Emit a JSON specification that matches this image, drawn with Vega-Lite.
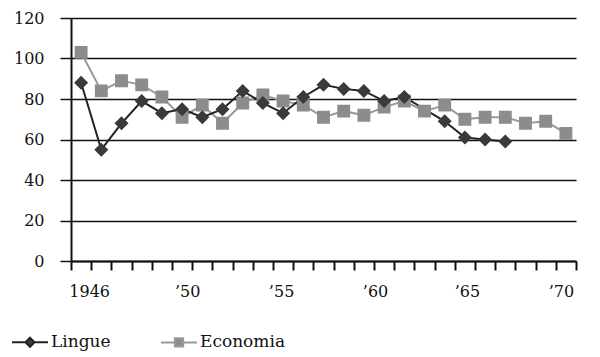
{
  "$schema": "https://vega.github.io/schema/vega-lite/v6.json",
  "width": 505,
  "height": 243,
  "autosize": {"type": "none"},
  "padding": {"left": 71, "top": 18, "right": 24, "bottom": 96},
  "background": "white",
  "config": {
    "view": {"stroke": null},
    "font": "DejaVu Serif",
    "legend": {
      "orient": "none",
      "legendX": -60,
      "legendY": 305,
      "direction": "horizontal",
      "symbolSize": 1296,
      "symbolStrokeWidth": 2,
      "labelFontSize": 17,
      "labelFont": "DejaVu Serif",
      "labelColor": "#111111",
      "labelOffset": 2,
      "columnPadding": 46,
      "padding": 0
    }
  },
  "data": {"values": [
    {"year": 1946, "series": "Economia", "value": 103},
    {"year": 1947, "series": "Economia", "value": 84},
    {"year": 1948, "series": "Economia", "value": 89},
    {"year": 1949, "series": "Economia", "value": 87},
    {"year": 1950, "series": "Economia", "value": 81},
    {"year": 1951, "series": "Economia", "value": 71},
    {"year": 1952, "series": "Economia", "value": 77},
    {"year": 1953, "series": "Economia", "value": 68},
    {"year": 1954, "series": "Economia", "value": 78},
    {"year": 1955, "series": "Economia", "value": 82},
    {"year": 1956, "series": "Economia", "value": 79},
    {"year": 1957, "series": "Economia", "value": 77},
    {"year": 1958, "series": "Economia", "value": 71},
    {"year": 1959, "series": "Economia", "value": 74},
    {"year": 1960, "series": "Economia", "value": 72},
    {"year": 1961, "series": "Economia", "value": 76},
    {"year": 1962, "series": "Economia", "value": 79},
    {"year": 1963, "series": "Economia", "value": 74},
    {"year": 1964, "series": "Economia", "value": 77},
    {"year": 1965, "series": "Economia", "value": 70},
    {"year": 1966, "series": "Economia", "value": 71},
    {"year": 1967, "series": "Economia", "value": 71},
    {"year": 1968, "series": "Economia", "value": 68},
    {"year": 1969, "series": "Economia", "value": 69},
    {"year": 1970, "series": "Economia", "value": 63},
    {"year": 1946, "series": "Lingue", "value": 88},
    {"year": 1947, "series": "Lingue", "value": 55},
    {"year": 1948, "series": "Lingue", "value": 68},
    {"year": 1949, "series": "Lingue", "value": 79},
    {"year": 1950, "series": "Lingue", "value": 73},
    {"year": 1951, "series": "Lingue", "value": 75},
    {"year": 1952, "series": "Lingue", "value": 71},
    {"year": 1953, "series": "Lingue", "value": 75},
    {"year": 1954, "series": "Lingue", "value": 84},
    {"year": 1955, "series": "Lingue", "value": 78},
    {"year": 1956, "series": "Lingue", "value": 73},
    {"year": 1957, "series": "Lingue", "value": 81},
    {"year": 1958, "series": "Lingue", "value": 87},
    {"year": 1959, "series": "Lingue", "value": 85},
    {"year": 1960, "series": "Lingue", "value": 84},
    {"year": 1961, "series": "Lingue", "value": 79},
    {"year": 1962, "series": "Lingue", "value": 81},
    {"year": 1964, "series": "Lingue", "value": 69},
    {"year": 1965, "series": "Lingue", "value": 61},
    {"year": 1966, "series": "Lingue", "value": 60},
    {"year": 1967, "series": "Lingue", "value": 59}
  ]},
  "encoding": {
    "x": {
      "field": "year",
      "type": "quantitative",
      "scale": {"domain": [1945.5, 1970.5], "nice": false, "zero": false},
      "axis": {
        "title": null,
        "values": [1945.5, 1946.4, 1946.5, 1947.5, 1948.5, 1949.5, 1950.5, 1951.25, 1951.5, 1952.5, 1953.5, 1954.5, 1955.5, 1955.9, 1956.5, 1957.5, 1958.5, 1959.5, 1960.5, 1960.55, 1961.5, 1962.5, 1963.5, 1964.5, 1965.1, 1965.5, 1966.5, 1967.5, 1968.5, 1969.5, 1969.75, 1970.5],
        "labelExpr": "abs(datum.value - floor(datum.value) - 0.5) < 0.001 ? '' : (datum.value < 1948 ? '1946' : '’' + format(round(datum.value / 5) * 5 % 100, '02d'))",
        "tickOpacity": {"condition": {"test": "abs(datum.value - floor(datum.value) - 0.5) < 0.001", "value": 1}, "value": 0},
        "tickSize": 9,
        "tickWidth": 2,
        "tickColor": "#111111",
        "domainColor": "#111111",
        "domainWidth": 2,
        "grid": false,
        "labelOverlap": false,
        "labelFlush": false,
        "labelBound": false,
        "labelFontSize": 16,
        "labelFont": "DejaVu Serif",
        "labelColor": "#111111",
        "labelPadding": 13
      }
    },
    "y": {
      "field": "value",
      "type": "quantitative",
      "scale": {"domain": [0, 120], "nice": false},
      "axis": {
        "title": null,
        "values": [0, 20, 40, 60, 80, 100, 120],
        "grid": true,
        "gridColor": "#111111",
        "gridWidth": 1.5,
        "gridOpacity": 1,
        "tickSize": 11,
        "tickColor": "#111111",
        "tickWidth": 1.5,
        "domainColor": "#111111",
        "domainWidth": 2,
        "labelFontSize": 16,
        "labelFont": "DejaVu Serif",
        "labelColor": "#111111",
        "labelPadding": 16
      }
    }
  },
  "layer": [
    {
      "mark": {"type": "line", "strokeWidth": 2},
      "encoding": {
        "color": {
          "field": "series",
          "type": "nominal",
          "scale": {"domain": ["Lingue", "Economia"], "range": ["#222222", "#999999"]},
          "legend": {"title": null}
        }
      }
    },
    {
      "mark": {"type": "point", "filled": true, "size": 3136, "opacity": 1},
      "encoding": {
        "fill": {
          "field": "series",
          "type": "nominal",
          "scale": {"domain": ["Lingue", "Economia"], "range": ["#3a3a3a", "#8c8c8c"]},
          "legend": {"title": null}
        },
        "shape": {
          "field": "series",
          "type": "nominal",
          "scale": {"domain": ["Lingue", "Economia"], "range": ["M-1,0H-0.25M0.25,0H1M0,-0.25L0.25,0L0,0.25L-0.25,0Z", "M-1,0H-0.23M0.23,0H1M-0.23,-0.23H0.23V0.23H-0.23Z"]},
          "legend": {"title": null}
        }
      }
    }
  ]
}
